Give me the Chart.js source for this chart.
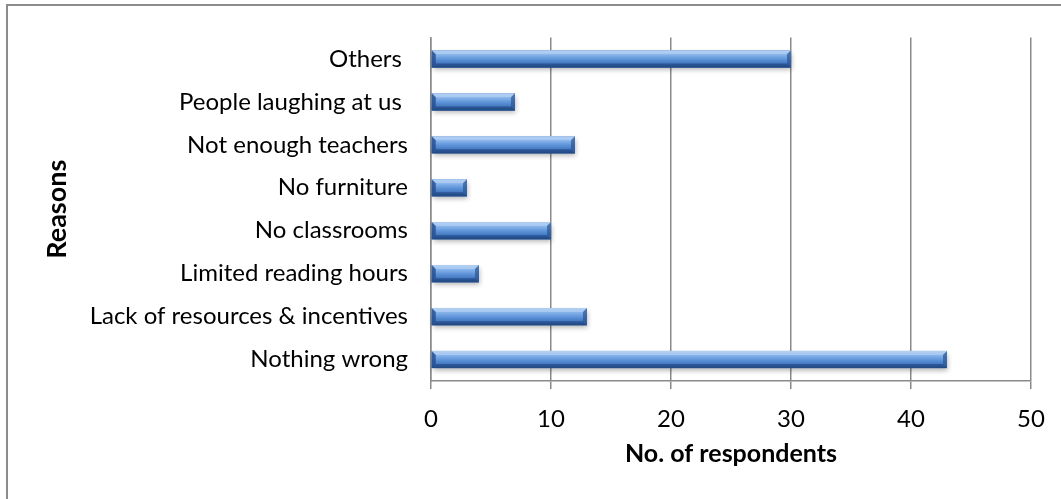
<!DOCTYPE html>
<html>
<head>
<meta charset="utf-8">
<script src="https://cdn.jsdelivr.net/npm/chart.js@4"></script>
<style>
  html, body { margin: 0; padding: 0; background: #ffffff; }
  #wrap { width: 1061px; height: 499px; position: relative; }
</style>
</head>
<body>
<div id="wrap"><canvas id="chart" width="1061" height="499"></canvas></div>
<script>
// Reasons given, top to bottom as shown
const categories = [
  'Others ',
  'People laughing at us ',
  'Not enough teachers',
  'No furniture',
  'No classrooms',
  'Limited reading hours',
  'Lack of resources & incentives',
  'Nothing wrong'
];
const respondents = [30, 7, 12, 3, 10, 4, 13, 43];
const xTicks = [0, 10, 20, 30, 40, 50];

const FONT = "Lato, 'Open Sans', 'Liberation Sans', sans-serif";

// Frame around the chart
const framePlugin = {
  id: 'frame',
  beforeDraw(chart) {
    const ctx = chart.ctx;
    ctx.save();
    ctx.strokeStyle = '#8c8c8c';
    ctx.lineWidth = 2;
    ctx.strokeRect(7, 5, chart.width + 20, chart.height + 20);
    ctx.restore();
  }
};

// Bevelled bar faces with a soft shadow
const bevelPlugin = {
  id: 'bevel',
  afterDatasetsDraw(chart) {
    const ctx = chart.ctx;
    const meta = chart.getDatasetMeta(0);
    meta.data.forEach((bar) => {
      const p = bar.getProps(['x', 'y', 'base', 'height'], true);
      const x0 = Math.min(p.base, p.x), x1 = Math.max(p.base, p.x);
      const y0 = p.y - p.height / 2, y1 = p.y + p.height / 2;
      const b = 4;
      ctx.save();
      ctx.shadowColor = 'rgba(0,0,0,0.3)';
      ctx.shadowBlur = 5;
      ctx.shadowOffsetX = 1;
      ctx.shadowOffsetY = 3;
      ctx.fillStyle = '#3d72bd';
      ctx.fillRect(x0, y0, x1 - x0, y1 - y0);
      ctx.restore();
      ctx.save();
      const g = ctx.createLinearGradient(0, y0, 0, y1);
      g.addColorStop(0, '#9fc2ee');
      g.addColorStop(0.3, '#80afe8');
      g.addColorStop(0.55, '#5a90d6');
      g.addColorStop(0.85, '#3c70b9');
      g.addColorStop(1, '#2a5593');
      ctx.fillStyle = g;
      ctx.fillRect(x0, y0, x1 - x0, y1 - y0);
      // top facet
      ctx.fillStyle = 'rgba(205,225,250,0.45)';
      ctx.beginPath();
      ctx.moveTo(x0, y0); ctx.lineTo(x1, y0); ctx.lineTo(x1 - b, y0 + b); ctx.lineTo(x0 + b, y0 + b);
      ctx.closePath(); ctx.fill();
      // bottom facet
      ctx.fillStyle = 'rgba(25,60,115,0.55)';
      ctx.beginPath();
      ctx.moveTo(x0, y1); ctx.lineTo(x1, y1); ctx.lineTo(x1 - b, y1 - b); ctx.lineTo(x0 + b, y1 - b);
      ctx.closePath(); ctx.fill();
      // right facet
      ctx.fillStyle = 'rgba(40,85,150,0.7)';
      ctx.beginPath();
      ctx.moveTo(x1, y0); ctx.lineTo(x1, y1); ctx.lineTo(x1 - b, y1 - b); ctx.lineTo(x1 - b, y0 + b);
      ctx.closePath(); ctx.fill();
      // left facet
      ctx.fillStyle = 'rgba(35,75,140,0.8)';
      ctx.beginPath();
      ctx.moveTo(x0, y0); ctx.lineTo(x0, y1); ctx.lineTo(x0 + b, y1 - b); ctx.lineTo(x0 + b, y0 + b);
      ctx.closePath(); ctx.fill();
      ctx.restore();
    });
  }
};

new Chart(document.getElementById('chart'), {
  type: 'bar',
  data: {
    labels: categories,
    datasets: [{
      data: respondents,
      backgroundColor: '#4f86d1',
      borderWidth: 0,
      barPercentage: 0.4,
      categoryPercentage: 1.0
    }]
  },
  options: {
    indexAxis: 'y',
    responsive: false,
    animation: false,
    devicePixelRatio: 1,
    layout: { padding: { top: 31, right: 30, left: 0, bottom: 0 } },
    plugins: {
      legend: { display: false },
      tooltip: { enabled: false }
    },
    scales: {
      x: {
        min: 0,
        max: 50,
        afterBuildTicks(scale) { scale.ticks = xTicks.map(v => ({ value: v })); },
        afterFit(scale) { scale.height = 118; },
        grid: {
          color: '#8a8a8a',
          lineWidth: 1.5,
          drawTicks: true,
          tickLength: 8,
          tickColor: '#8a8a8a'
        },
        border: { color: '#8a8a8a', width: 1.5 },
        ticks: {
          color: '#000000',
          padding: 16,
          font: { family: FONT, size: 24 }
        },
        title: {
          display: true,
          text: 'No. of respondents',
          color: '#000000',
          padding: { top: 0, bottom: 30 },
          font: { family: FONT, size: 25, weight: 'bold' }
        }
      },
      y: {
        afterFit(scale) { scale.width = 431; },
        grid: { display: false, drawTicks: false },
        border: { color: '#8a8a8a', width: 1.5 },
        ticks: {
          color: '#000000',
          padding: 23,
          font: { family: FONT, size: 24 }
        },
        title: {
          display: true,
          text: 'Reasons',
          color: '#000000',
          padding: { top: 41, bottom: 0 },
          font: { family: FONT, size: 27, weight: 'bold' }
        }
      }
    }
  },
  plugins: [framePlugin, bevelPlugin]
});
</script>
</body>
</html>
